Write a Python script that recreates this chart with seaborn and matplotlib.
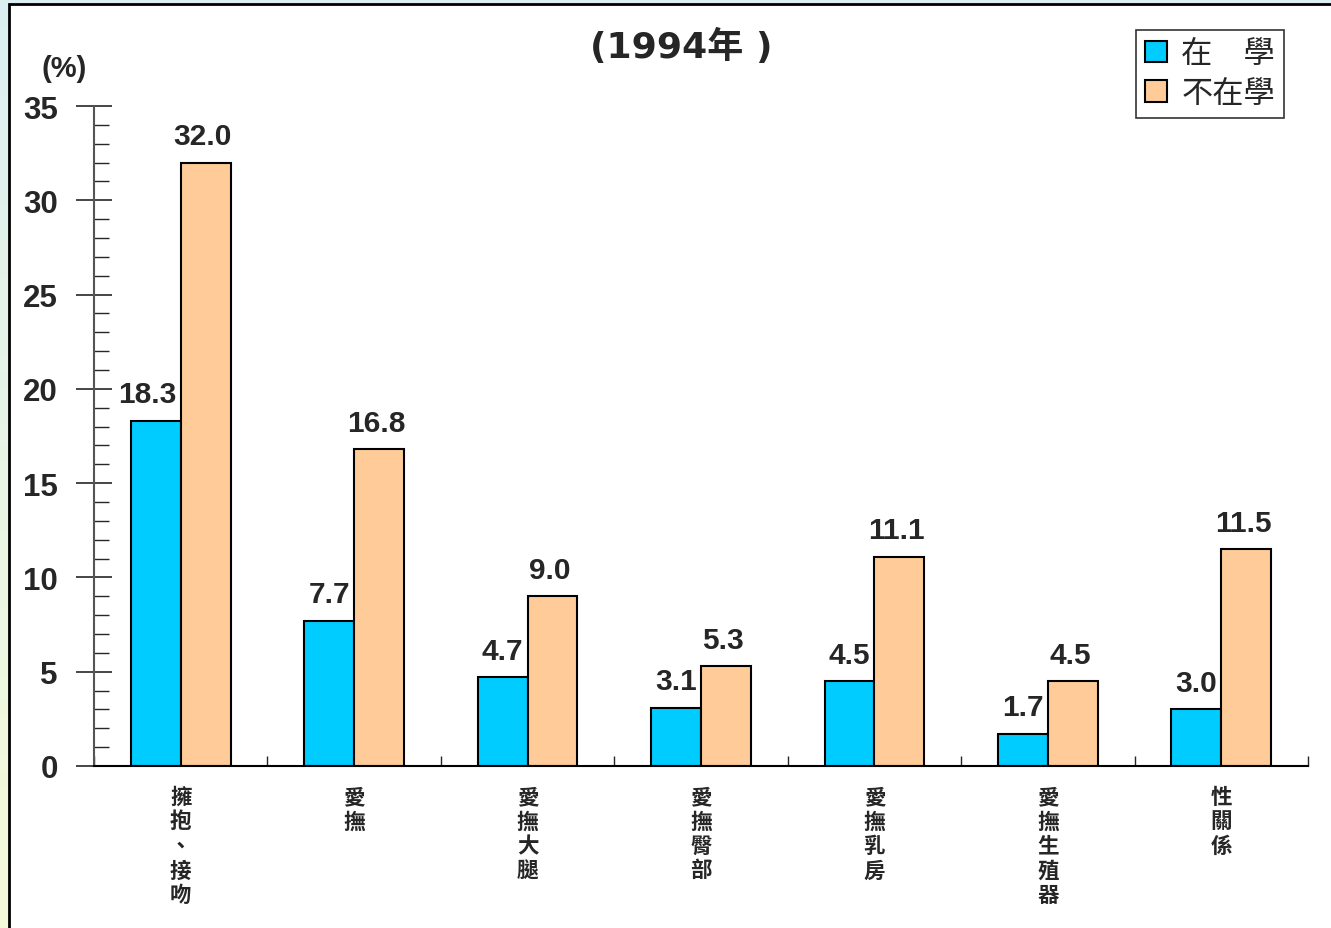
import numpy as np
import pandas as pd
import matplotlib
matplotlib.use("Agg")
import matplotlib.pyplot as plt
from matplotlib.patches import Rectangle, Patch
from matplotlib.ticker import MultipleLocator, FixedLocator
import seaborn as sns

# data
categories = ["擁\n抱\n、\n接\n吻", "愛\n撫", "愛\n撫\n大\n腿", "愛\n撫\n臀\n部",
              "愛\n撫\n乳\n房", "愛\n撫\n生\n殖\n器", "性\n關\n係"]
in_school = [18.3, 7.7, 4.7, 3.1, 4.5, 1.7, 3.0]
out_school = [32.0, 16.8, 9.0, 5.3, 11.1, 4.5, 11.5]
groups = ["在\u3000學", "不在學"]
colors = ["#00CCFF", "#FFCC99"]

df = pd.DataFrame({
    "cat": categories * 2,
    "val": in_school + out_school,
    "grp": [groups[0]] * len(categories) + [groups[1]] * len(categories),
})

sns.set_style("white")
plt.rcParams["font.family"] = ["Liberation Sans", "Noto Sans CJK TC", "DejaVu Sans"]

fig = plt.figure(figsize=(13.31, 9.29), dpi=100)

# gradient background and white panel
bg = fig.add_axes([0, 0, 1, 1], zorder=-5)
top = np.array([0.86, 0.94, 0.95])
bot = np.array([0.96, 0.98, 0.85])
grad = np.linspace(0, 1, 256)[:, None, None] * (bot - top) + top
bg.imshow(np.repeat(grad, 2, axis=1), extent=[0, 1, 0, 1], aspect="auto", origin="upper")
bg.add_patch(Rectangle((9 / 1331, -0.02), 1.05, 1 - 5 / 929 + 0.02,
                       facecolor="white", edgecolor="black", lw=2))
bg.set_xlim(0, 1)
bg.set_ylim(0, 1)
bg.axis("off")

ax = fig.add_axes([94 / 1331, 1 - 767 / 929, (1308 - 94) / 1331, (767 - 107) / 929])
ax.set_facecolor("none")

sns.barplot(data=df, x="cat", y="val", hue="grp", palette=colors, width=0.575,
            edgecolor="black", linewidth=1.5, saturation=1, ax=ax)

# value labels: blue ones right-aligned to the bar edge, orange ones centred
for i, cont in enumerate(ax.containers):
    for bar in cont:
        h = bar.get_height()
        if i == 0:
            ax.annotate(f"{h:.1f}", xy=(bar.get_x() + bar.get_width(), h),
                        xytext=(-3, 9), textcoords="offset points",
                        ha="right", va="bottom", fontsize=21.5, fontweight="bold")
        else:
            ax.annotate(f"{h:.1f}", xy=(bar.get_x() + bar.get_width() / 2, h),
                        xytext=(-2, 9), textcoords="offset points",
                        ha="center", va="bottom", fontsize=21.5, fontweight="bold")

ax.set_ylim(0, 35)
ax.set_xlim(-0.5, len(categories) - 0.5)
ax.set_xlabel("")
ax.set_ylabel("")

ax.yaxis.set_major_locator(MultipleLocator(5))
ax.yaxis.set_minor_locator(MultipleLocator(1))
ax.tick_params(axis="y", which="major", direction="inout", length=26, width=1.2,
               labelsize=22.5, pad=13, left=True)
ax.tick_params(axis="y", which="minor", direction="in", length=11, width=1, left=True)
for lab in ax.get_yticklabels():
    lab.set_fontweight("bold")

ax.xaxis.set_minor_locator(FixedLocator(np.arange(-0.5, len(categories), 1.0)))
ax.tick_params(axis="x", which="major", length=0, pad=15)
ax.tick_params(axis="x", which="minor", direction="in", length=7, width=1, bottom=True)
for lab in ax.get_xticklabels():
    lab.set_fontsize(15.5)
    lab.set_fontweight("bold")
    lab.set_linespacing(1.22)
    lab.set_verticalalignment("top")

for s in ["top", "right"]:
    ax.spines[s].set_visible(False)
ax.spines["left"].set_color("#555555")
ax.spines["left"].set_linewidth(1.5)
ax.spines["bottom"].set_color("black")
ax.spines["bottom"].set_linewidth(1.5)

ax.legend_.remove()
handles = [Patch(facecolor=c, edgecolor="black", lw=1.5) for c in colors]
leg = fig.legend(handles, groups, loc="upper left", bbox_to_anchor=(1136 / 1331, 1 - 31 / 929),
                 fontsize=22.5, frameon=True, fancybox=False, edgecolor="black",
                 handlelength=0.7, handleheight=0.7, handletextpad=0.45,
                 borderpad=0.3, labelspacing=0.3, borderaxespad=0)
leg.get_frame().set_linewidth(1.2)

fig.text(681 / 1331, 1 - 47 / 929, "(1994年 )", ha="center", va="center",
         fontsize=26, fontweight="bold",
         family=["DejaVu Sans", "Noto Sans CJK TC"])
fig.text(64 / 1331, 1 - 69 / 929, "(%)", ha="center", va="center",
         fontsize=21, fontweight="bold")

fig.savefig("out.png", dpi=100)
